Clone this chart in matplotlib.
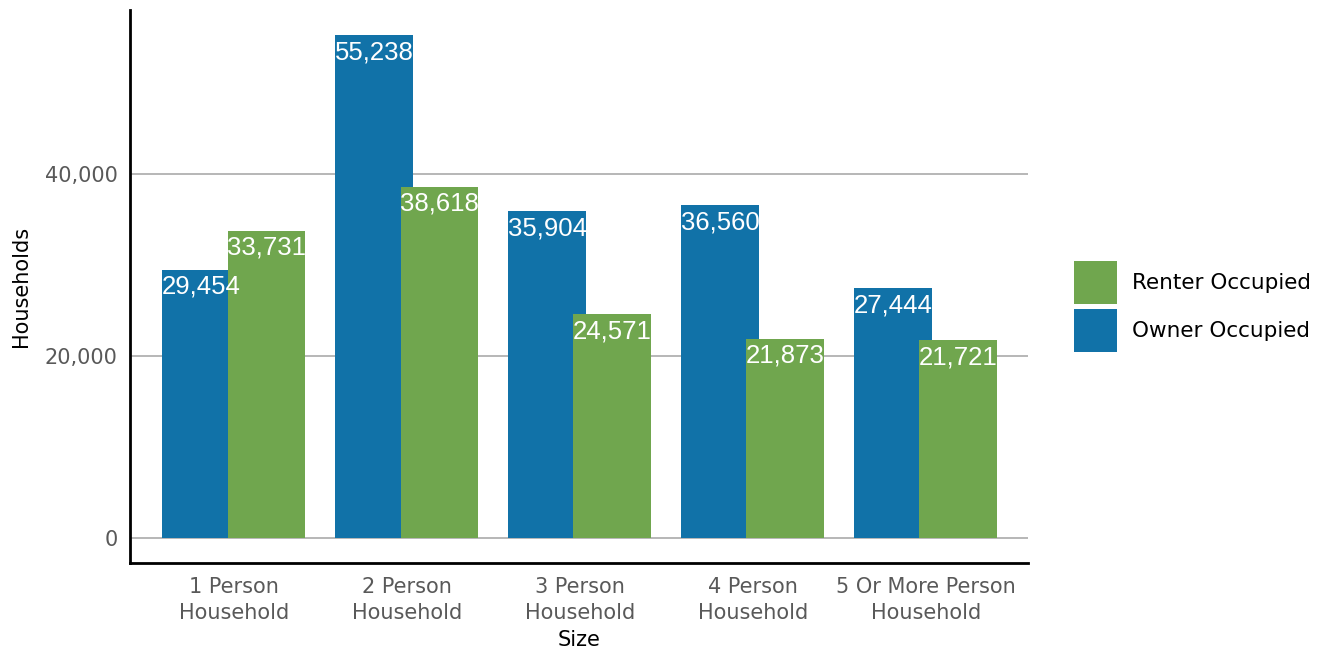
import numpy as np
import matplotlib.pyplot as plt

sizes = ["1 Person\nHousehold", "2 Person\nHousehold", "3 Person\nHousehold",
         "4 Person\nHousehold", "5 Or More Person\nHousehold"]
owner = [29454, 55238, 35904, 36560, 27444]
renter = [33731, 38618, 24571, 21873, 21721]

blue = "#1172a8"
green = "#70a64e"

fig = plt.figure(figsize=(13.28, 6.52), dpi=100)
ax = fig.add_axes([0.098, 0.1365, 0.676, 0.848])

x = np.arange(len(sizes))
w = 0.45
off = 0.188
b_own = ax.bar(x - off, owner, w, color=blue, label="Owner Occupied", zorder=2)
b_ren = ax.bar(x + off, renter, w, color=green, label="Renter Occupied", zorder=3)

for bars, vals in ((b_own, owner), (b_ren, renter)):
    for r, v in zip(bars, vals):
        ax.annotate(f"{v:,}", (r.get_x() + r.get_width() / 2, v),
                    xytext=(0, -3.5), textcoords="offset points",
                    ha="center", va="top", color="white", fontsize=18.5,
                    family="Liberation Sans", zorder=5)

ax.set_xlim(-0.6, 4.59)
ax.set_ylim(-2750, 58000)
ax.set_yticks([0, 20000, 40000])
ax.set_yticklabels(["0", "20,000", "40,000"])
ax.set_xticks(x)
ax.set_xticklabels(sizes, linespacing=1.4)
ax.yaxis.grid(True, color="#aaaaaa", lw=1.2, zorder=0)
ax.tick_params(length=0, labelsize=15, labelcolor="#595959", pad=9)
ax.tick_params(axis="x", pad=10)
for s in ("top", "right"):
    ax.spines[s].set_visible(False)
for s in ("left", "bottom"):
    ax.spines[s].set_linewidth(2)
    ax.spines[s].set_color("black")

ax.set_xlabel("Size", fontsize=15, labelpad=5)
ax.set_ylabel("Households", fontsize=15, labelpad=10)

h, l = ax.get_legend_handles_labels()
ax.legend(h[::-1], l[::-1], loc="center left", bbox_to_anchor=(1.03, 0.464),
          frameon=False, fontsize=15.5, handlelength=2.0, handleheight=2.7,
          handletextpad=0.7, labelspacing=0.2)

fig.savefig("out.png")
